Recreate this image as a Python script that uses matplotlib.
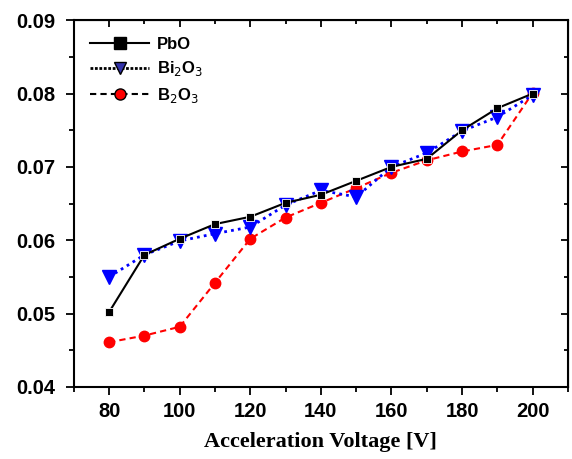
import numpy as np
import matplotlib.pyplot as plt
from matplotlib.lines import Line2D
from matplotlib.ticker import MultipleLocator

voltage = [80, 90, 100, 110, 120, 130, 140, 150, 160, 170, 180, 190, 200]
pbo = [0.0502, 0.0580, 0.0602, 0.0622, 0.0632, 0.0651, 0.0662, 0.0681, 0.0700, 0.0711, 0.0750, 0.0780, 0.0800]
bi2o3 = [0.0550, 0.0580, 0.0599, 0.0609, 0.0618, 0.0648, 0.0668, 0.0659, 0.0700, 0.0719, 0.0749, 0.0768, 0.0798]
b2o3 = [0.0461, 0.0470, 0.0482, 0.0542, 0.0602, 0.0631, 0.0651, 0.0671, 0.0692, 0.0709, 0.0721, 0.0730, 0.0801]

fig = plt.figure(figsize=(5.72, 4.59), dpi=100)
ax = fig.add_axes([0.129, 0.157, 0.864, 0.799])

ax.plot(voltage, b2o3, color='red', ls=(0, (3, 2)), lw=1.5, marker='o', ms=7.5,
        mfc='red', mec='red', zorder=2)
ax.plot(voltage, bi2o3, color='blue', ls=(0, (1, 1.5)), lw=2, marker='v', ms=10,
        mfc='blue', mec='blue', zorder=3)
ax.plot(voltage, pbo, color='black', ls='-', lw=1.5, marker='s', ms=6,
        mfc='black', mec='white', mew=0.6, zorder=4)

ax.set_xlim(70, 210)
ax.set_ylim(0.04, 0.09)
ax.set_xticks(range(80, 201, 20))
ax.set_yticks(np.arange(0.04, 0.0901, 0.01))
ax.xaxis.set_minor_locator(MultipleLocator(10))
ax.yaxis.set_minor_locator(MultipleLocator(0.005))
ax.tick_params(which='both', direction='out', width=1.3, top=False, right=False)
ax.tick_params(which='major', length=6)
ax.tick_params(which='minor', length=3.5)
ax.tick_params(axis='y', which='major', pad=7)
ax.tick_params(axis='x', which='major', pad=5)
for s in ax.spines.values():
    s.set_linewidth(1.5)

# inward ticks on top and right axes
axt = ax.secondary_xaxis('top')
axt.set_xticks(range(80, 201, 20))
axt.xaxis.set_minor_locator(MultipleLocator(10))
axt.tick_params(which='both', direction='in', width=1.3, labeltop=False)
axt.tick_params(which='major', length=5)
axt.tick_params(which='minor', length=3)
axr = ax.secondary_yaxis('right')
axr.set_yticks(np.arange(0.04, 0.0901, 0.01))
axr.yaxis.set_minor_locator(MultipleLocator(0.005))
axr.tick_params(which='both', direction='in', width=1.3, labelright=False)
axr.tick_params(which='major', length=5)
axr.tick_params(which='minor', length=3)

ax.set_yticklabels(['%.2f' % v for v in np.arange(0.04, 0.0901, 0.01)])
for lab in ax.get_xticklabels() + ax.get_yticklabels():
    lab.set_fontfamily('Liberation Sans')
    lab.set_fontweight('bold')
    lab.set_fontsize(14.5)

ax.set_xlabel('Acceleration Voltage [V]', fontfamily='Liberation Serif',
              fontweight='bold', fontsize=16, labelpad=8)

handles = [
    Line2D([], [], color='black', ls='-', lw=1.5, marker='s', ms=8, mfc='black', mec='black'),
    Line2D([], [], color='black', ls=(0, (1, 0.6)), lw=2, marker='v', ms=9, mfc='#3333aa', mec='black'),
    Line2D([], [], color='black', ls=(0, (3, 2)), lw=1.5, marker='o', ms=8, mfc='red', mec='black'),
]
labels = ['PbO', 'Bi$_2$O$_3$', 'B$_2$O$_3$']
ax.legend(handles, labels, loc='upper left', frameon=False, handlelength=3.5,
          handletextpad=0.5, labelspacing=0.45, borderaxespad=0.6,
          prop={'family': 'Liberation Sans', 'weight': 'bold', 'size': 12})

fig.savefig('out.png', dpi=100)
